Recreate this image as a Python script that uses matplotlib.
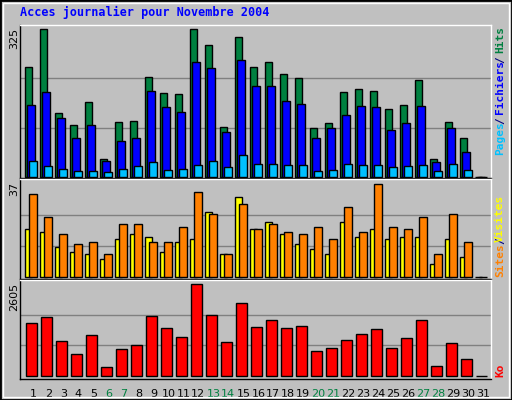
import matplotlib
matplotlib.use("Agg")
import matplotlib.pyplot as plt
from matplotlib.patches import Rectangle

days = list(range(1, 32))
hits = [241,325,140,115,164,40,120,122,219,184,182,325,290,109,307,241,254,226,217,107,118,186,193,188,149,157,213,40,120,85,0]
files = [157,186,129,85,115,34,78,85,188,153,142,252,239,98,257,201,201,166,160,85,107,137,155,153,104,118,155,32,107,54,0]
pages = [34,23,18,12,12,10,18,23,32,14,18,25,34,21,47,27,29,25,25,12,14,29,25,25,21,23,25,12,29,14,0]
sites = [19,18,12,10,9,7,15,17,16,10,14,15,26,9,32,19,22,17,13,11,9,22,16,19,15,16,16,5,15,8,0]
visits = [33,24,17,13,14,9,21,21,14,14,20,34,25,9,29,19,21,18,17,20,15,28,18,37,20,19,24,9,25,14,0]
ko = [1493,1664,979,608,1150,238,751,865,1692,1350,1093,2605,1721,951,2063,1379,1578,1350,1407,694,780,1008,1179,1321,780,1065,1578,266,922,466,0]
weekend = [6,7,13,14,20,21,27,28]

W, H = 512, 400
fig = plt.figure(figsize=(W/100, H/100), dpi=100)
fig.patch.set_facecolor('#c0c0c0')
# border
fig.add_artist(Rectangle((0, 0), 1, 1, transform=fig.transFigure, fill=False, ec='black', lw=2))
fig.add_artist(Rectangle((3/W, 3/H), 1-6/W, 1-6/H, transform=fig.transFigure, fill=False, ec='white', lw=1))

def px_axes(x0, y0, x1, y1):
    return fig.add_axes([x0/W, 1-y1/H, (x1-x0)/W, (y1-y0)/H])

XMAX = 471/15

def setup(ax, vmax, base_px, top_px, y0, y1):
    rng = base_px - top_px
    ax.set_xlim(0, XMAX)
    ax.set_ylim(-vmax*(y1-base_px)/rng, vmax*(base_px-y0)/rng)
    ax.set_facecolor('#c0c0c0')
    for s in ax.spines.values():
        s.set_color('black'); s.set_linewidth(1)
    ax.spines['top'].set_color('white'); ax.spines['right'].set_color('white')
    ax.set_xticks([]); ax.set_yticks([])
    for f in (1/3, 2/3):
        ax.axhline(vmax*f, color='#808080', lw=1, zorder=0)

kw = dict(edgecolor='black', linewidth=1, align='edge', zorder=2)
x = [d-1 for d in days]

ax1 = px_axes(20, 25, 491, 178)
setup(ax1, 325, 176.7, 29.3, 25, 178)
ax1.bar([v+0.35 for v in x], hits, 0.47, color='#008040', **kw)
ax1.bar([v+0.47 for v in x], files, 0.5, color='#0000ff', **kw)
ax1.bar([v+0.6 for v in x], pages, 0.5, color='#00c0ff', **kw)

ax2 = px_axes(20, 179, 491, 279)
setup(ax2, 37, 276.7, 184.3, 179, 279)
ax2.bar([v+0.35 for v in x], sites, 0.45, color='#ffff00', **kw)
ax2.bar([v+0.62 for v in x], visits, 0.5, color='#ff8000', **kw)

ax3 = px_axes(20, 280, 491, 379)
setup(ax3, 2605, 375.7, 284.3, 280, 379)
ax3.bar([v+0.42 for v in x], ko, 0.69, color='#ff0000', **kw)

for d in days:
    ax3.text(d-1+0.89, -0.1, str(d), transform=ax3.get_xaxis_transform(), ha='center', va='top',
             fontsize=8, color='#008040' if d in weekend else 'black', family='DejaVu Sans')

mono = 'DejaVu Sans Mono'
fig.text(20/W, 1-12/H, 'Acces journalier pour Novembre 2004', color='#0000ff', fontsize=8.5,
         fontweight='bold', family=mono, va='center', ha='left')
for lab, ytop in (('325', 28), ('37', 182), ('2605', 283)):
    fig.text(14/W, 1-ytop/H, lab, rotation=90, ha='center', va='top', fontsize=8, family='DejaVu Sans')

def rlabel(txt, ybot, color):
    fig.text(500/W, 1-ybot/H, txt, rotation=90, ha='center', va='bottom', fontsize=8,
             family=mono, fontweight='bold', color=color)
rlabel('Pages', 155, '#00c0ff'); rlabel('/', 124, '#000080'); rlabel('Fichiers', 114, '#0000ff')
rlabel('/', 63, '#000080'); rlabel('Hits', 53, '#008040')
rlabel('Sites', 277, '#ff8000'); rlabel('/', 244, '#000080'); rlabel('Visites', 242, '#ffff00')
rlabel('Ko', 377, '#ff0000')

fig.savefig('out.png', dpi=100, facecolor=fig.get_facecolor())
